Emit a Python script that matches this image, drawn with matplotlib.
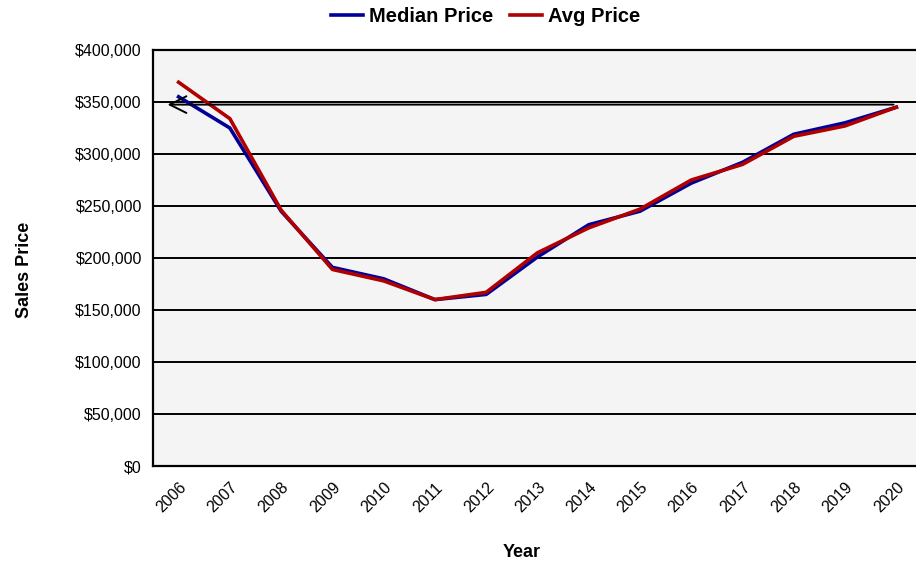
import matplotlib.pyplot as plt
import numpy as np
from matplotlib.ticker import FuncFormatter

plt.rcParams['font.family'] = ['Liberation Sans', 'DejaVu Sans']

# data
years = ['2006', '2007', '2008', '2009', '2010', '2011', '2012', '2013',
         '2014', '2015', '2016', '2017', '2018', '2019', '2020']
median_price = [355000, 325000, 245000, 191000, 180000, 160000, 165000, 201000,
                232000, 245000, 272000, 292000, 319000, 330000, 345000]
avg_price = [369000, 334000, 246000, 189000, 178000, 160000, 167000, 205000,
             229000, 247000, 275000, 290000, 317000, 327000, 345000]

x = np.arange(len(years))

fig = plt.figure(figsize=(9.16, 5.65), dpi=100)
ax = fig.add_axes([0.167, 0.1752, 0.8395, 0.7363])
ax.set_facecolor('#f4f4f4')

ax.plot(x, median_price, color='#000099', lw=2.6, label='Median Price', zorder=3)
ax.plot(x, avg_price, color='#b00000', lw=2.6, label='Avg Price', zorder=4)

# stray arrow drawn over the chart
ax.annotate('', xy=(-0.27, 347500), xytext=(14, 347500),
            arrowprops=dict(arrowstyle='->', color='black', lw=1.4,
                            mutation_scale=30), zorder=5)

ax.set_xlim(-0.5, len(years) - 0.5)
ax.set_ylim(0, 400000)
ax.set_yticks(np.arange(0, 400001, 50000))
ax.yaxis.set_major_formatter(FuncFormatter(lambda v, p: '${:,.0f}'.format(v)))
ax.set_xticks(x)
ax.set_xticklabels(years, rotation=45, ha='right', va='top', rotation_mode='anchor')
ax.tick_params(axis='both', length=0, labelsize=11.5, colors='black')
ax.tick_params(axis='x', pad=10)
ax.tick_params(axis='y', pad=8)
ax.grid(axis='y', color='black', lw=1.4)
ax.set_axisbelow(True)
for s in ax.spines.values():
    s.set_color('black')
    s.set_linewidth(1.6)

fig.text(0.027, 0.522, 'Sales Price', rotation=90, ha='center', va='center',
         fontsize=13, fontweight='bold')
fig.text(0.569, 0.022, 'Year', ha='center', va='center',
         fontsize=13, fontweight='bold')

fig.legend(loc='center', bbox_to_anchor=(0.53, 0.97), ncol=2, frameon=False,
           prop={'weight': 'bold', 'size': 14.5}, handlelength=1.6,
           handletextpad=0.3, columnspacing=0.8)

fig.savefig('out.png', dpi=100)
